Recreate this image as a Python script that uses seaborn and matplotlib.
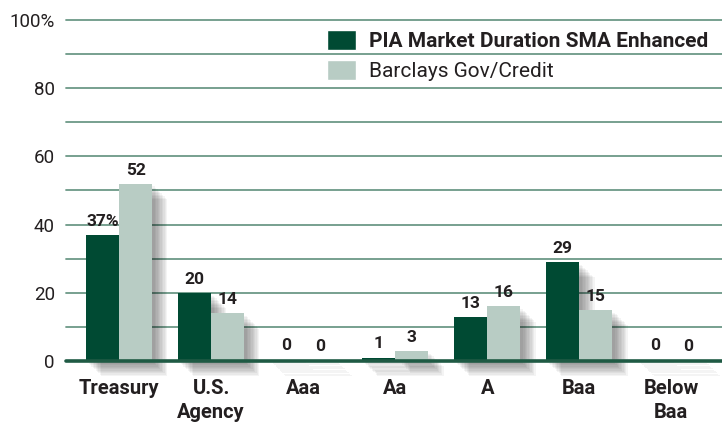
import numpy as np
import pandas as pd
import matplotlib
matplotlib.use("Agg")
import matplotlib.pyplot as plt
import matplotlib.patheffects as pe
from matplotlib.patches import Patch
import seaborn as sns

categories = ["Treasury", "U.S.\nAgency", "Aaa", "Aa", "A", "Baa", "Below\nBaa"]
series_names = ["PIA Market Duration SMA Enhanced", "Barclays Gov/Credit"]
pia_values = [37, 20, 0.4, 1, 13, 29, 0.4]
barclays_values = [52, 14, 0.3, 3, 16, 15, 0.3]
y_ticks = [0, 20, 40, 60, 80, 100]
y_tick_labels = ["0", "20", "40", "60", "80", "100%"]

dark = "#004a33"
light = "#b8ccc4"
grid_col = "#6c9987"
text_col = "#231f20"

df = pd.DataFrame({
    "category": categories * 2,
    "series": [series_names[0]] * len(categories) + [series_names[1]] * len(categories),
    "value": pia_values + barclays_values,
})

sns.set_style("white")
plt.rcParams["font.family"] = ["Roboto", "DejaVu Sans"]

fig = plt.figure(figsize=(7.22, 4.24), dpi=100)
ax = fig.add_axes([0.0914, 0.1486, 0.9086, 0.8044])

sns.barplot(data=df, x="category", y="value", hue="series", order=categories,
            hue_order=series_names, palette=[dark, light], width=0.72,
            saturation=1, ax=ax, legend=False, zorder=3)

# soft drop shadow behind the bars
shadow = [pe.SimplePatchShadow(offset=(o, -o), shadow_rgbFace="black", alpha=0.045)
          for o in range(2, 12)] + [pe.Normal()]
for bar in ax.patches:
    bar.set_path_effects(shadow)
    bar.set_linewidth(0)
    bar.set_clip_on(False)

for ci, cont in enumerate(ax.containers):
    for j, bar in enumerate(cont):
        v = bar.get_height()
        txt = f"{v:.0f}"
        if ci == 0 and j == 0:
            txt += "%"
        ax.text(bar.get_x() + bar.get_width() / 2, v + 1.8, txt, ha="center", va="bottom",
                fontsize=12.5, fontweight="bold", color=text_col, zorder=5)

ax.set_ylim(0, 100)
ax.set_xlim(-0.576, 6.55)
ax.set_yticks(y_ticks)
ax.set_yticklabels(y_tick_labels, fontsize=13.5, color=text_col)
for y in range(10, 101, 10):
    ax.axhline(y, color=grid_col, lw=1.3, zorder=1, clip_on=False)
ax.axhline(0, color="#1f5a44", lw=2.6, zorder=4, clip_on=False)
ax.tick_params(axis="x", length=0, pad=13, labelsize=14.5)
ax.tick_params(axis="y", length=0, pad=8)
for lab in ax.get_xticklabels():
    lab.set_fontweight("bold")
    lab.set_color(text_col)
    lab.set_linespacing(1.3)
ax.set_xlabel("")
ax.set_ylabel("")
for s in ax.spines.values():
    s.set_visible(False)

handles = [Patch(facecolor=dark), Patch(facecolor=light)]
leg = ax.legend(handles, series_names, loc="upper left", bbox_to_anchor=(0.398, 0.97),
                frameon=False, fontsize=15, handlelength=1.4, handleheight=1.1,
                handletextpad=0.62, labelspacing=0.42, borderpad=0, borderaxespad=0)
leg.get_texts()[0].set_fontweight("bold")
for t in leg.get_texts():
    t.set_color(text_col)

fig.savefig("out.png", dpi=100)
